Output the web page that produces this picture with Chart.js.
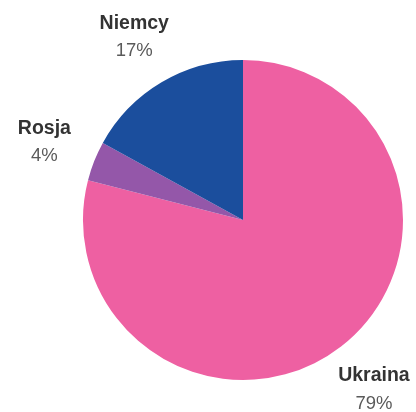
<!DOCTYPE html>
<html>
<head>
<meta charset="utf-8">
<script src="https://cdn.jsdelivr.net/npm/chart.js@4.4.1/dist/chart.umd.min.js"></script>
<style>
  html, body { margin: 0; padding: 0; background: #fff; }
  #wrap { width: 416px; height: 412px; }
</style>
</head>
<body>
<div id="wrap"><canvas id="chart" width="416" height="412"></canvas></div>
<script>
// dane z wykresu
const categories = ['Ukraina', 'Rosja', 'Niemcy'];
const shares = [79, 4, 17];
const colors = ['#EE60A2', '#9457A9', '#1B4E9D'];

// etykiety na zewnątrz koła
const outsideLabels = {
    id: 'outsideLabels',
    afterDatasetsDraw(chart) {
        const ctx = chart.ctx;
        const meta = chart.getDatasetMeta(0);
        ctx.save();
        ctx.textAlign = 'center';
        ctx.textBaseline = 'middle';
        meta.data.forEach((arc, i) => {
            const p = arc.getProps(['x', 'y', 'startAngle', 'endAngle', 'outerRadius'], true);
            const mid = (p.startAngle + p.endAngle) / 2;
            const lx = p.x + Math.cos(mid) * p.outerRadius * 1.335;
            const ly = p.y + Math.sin(mid) * p.outerRadius * 1.335;
            ctx.font = 'bold 19.5px "Liberation Sans", Arial, sans-serif';
            ctx.fillStyle = '#333333';
            ctx.fillText(categories[i], lx, ly - 13);
            ctx.font = '18.5px "Liberation Sans", Arial, sans-serif';
            ctx.fillStyle = '#5a5a5a';
            ctx.fillText(shares[i] + '%', lx, ly + 15);
        });
        ctx.restore();
    }
};

new Chart(document.getElementById('chart'), {
    type: 'pie',
    data: {
        labels: categories,
        datasets: [{
            data: shares,
            backgroundColor: colors,
            borderWidth: 0
        }]
    },
    options: {
        responsive: false,
        animation: false,
        layout: { padding: { left: 83, right: 13, top: 60, bottom: 32 } },
        plugins: {
            legend: { display: false },
            tooltip: { enabled: false }
        }
    },
    plugins: [outsideLabels]
});
</script>
</body>
</html>
